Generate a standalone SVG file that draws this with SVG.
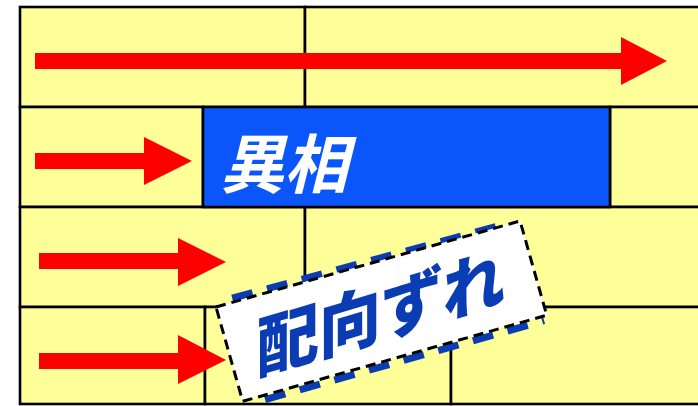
<svg xmlns="http://www.w3.org/2000/svg" width="698" height="406" viewBox="0 0 698 406">
<style>
.cell{fill:#FFFF99;stroke:#000;stroke-width:2.6}
.arrow{fill:#FF0000}
.t1{font-family:"Noto Sans CJK JP","Noto Sans",sans-serif;font-weight:bold;font-style:italic;font-size:64px;fill:#FFFFFF}
.t2{font-family:"Noto Sans CJK JP","Noto Sans",sans-serif;font-weight:900;font-size:62px;fill:#0A3CB4}
</style>
<rect width="698" height="406" fill="#FFFFFF"/>
<g id="row1">
<rect class="cell" x="20" y="7" width="285" height="100"/>
<rect class="cell" x="305" y="7" width="400" height="100"/>
</g>
<g id="row2">
<rect class="cell" x="20" y="107" width="183" height="100"/>
<rect class="cell" x="610" y="107" width="100" height="100"/>
</g>
<g id="row3">
<rect class="cell" x="20" y="207" width="285" height="100"/>
<rect class="cell" x="305" y="207" width="400" height="100"/>
</g>
<g id="row4">
<rect class="cell" x="20" y="307" width="185" height="97"/>
<rect class="cell" x="205" y="307" width="246" height="97"/>
<rect class="cell" x="451" y="307" width="260" height="97"/>
</g>
<g id="ishou">
<rect x="203" y="107" width="407" height="100" fill="#0A56FA" stroke="#000" stroke-width="2.6"/>
<text class="t1" x="220" y="188">異相</text>
</g>
<g id="connectors">
<polygon class="arrow" points="35,53 621,53 621,37 667,61 621,85 621,69 35,69"/>
<polygon class="arrow" points="35,153 144,153 144,137 192,161 144,185 144,169 35,169"/>
<polygon class="arrow" points="39,253 178,253 178,238 226,262 178,286 178,269 39,269"/>
<polygon class="arrow" points="39,353 178,353 178,335 226,360 178,384 178,369 39,369"/>
</g>
<g id="haikouzure">
<g transform="translate(216,307) rotate(-15.8)">
<path d="M18,-4 L304,-1 M22,102.5 L312,102.5" fill="none" stroke="#0A3CB4" stroke-width="7" stroke-dasharray="21 15"/>
<rect x="0" y="0" width="316" height="98" fill="#FFFFFF" stroke="#000" stroke-width="3" stroke-dasharray="10 6"/>
</g>
<g transform="translate(257,374) skewY(-16.5) scale(1,1.08)">
<text class="t2" x="0" y="0">配向ずれ</text>
</g>
</g>
</svg>
